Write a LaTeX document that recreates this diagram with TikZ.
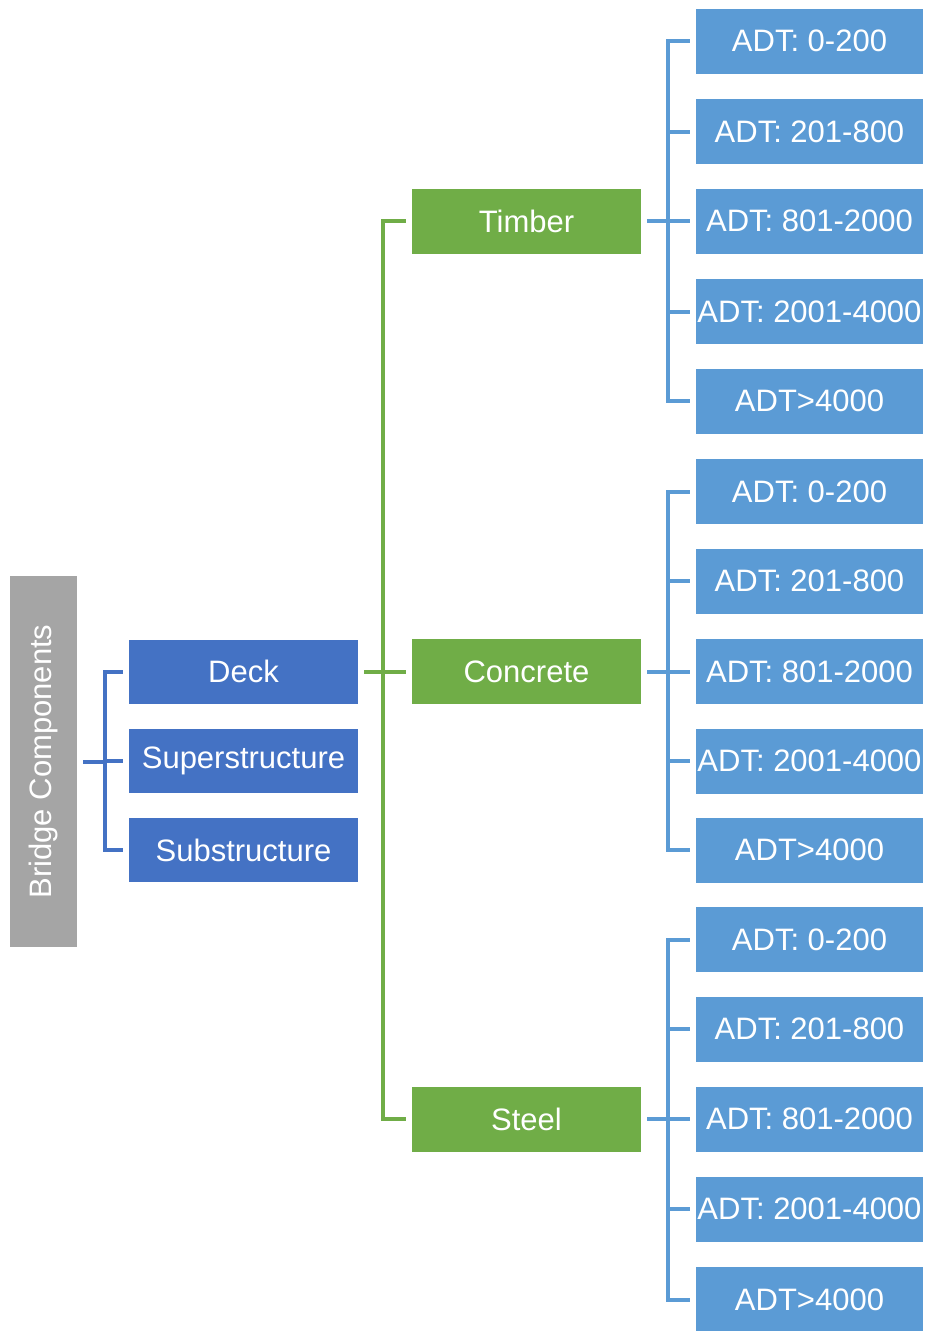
\documentclass[tikz,border=0pt]{standalone}
\usepackage{fontspec}
\setmainfont{Liberation Sans}
\definecolor{cgray}{HTML}{A5A5A5}
\definecolor{cdark}{HTML}{4472C4}
\definecolor{cgreen}{HTML}{70AD47}
\definecolor{clight}{HTML}{5B9BD5}
\begin{document}
\begin{tikzpicture}[x=1pt,y=-1pt,
  box/.style={inner sep=0pt,text=white,font=\fontsize{31}{32}\selectfont},
  graybox/.style={box,fill=cgray,minimum width=67pt,minimum height=371pt},
  darkbox/.style={box,fill=cdark,minimum width=229pt,minimum height=64pt},
  greenbox/.style={box,fill=cgreen,minimum width=229pt,minimum height=65pt},
  lightbox/.style={box,fill=clight,minimum width=227pt,minimum height=65pt},
  conn/.style={line width=4pt,line cap=butt,line join=miter}]
\useasboundingbox (0,0) rectangle (927,1331);
% root
\node[graybox] (root) at (43.5,761.5) {};
\node[box,rotate=90] (roottext) at (43.5,761.5) {Bridge Components};
% components
\node[darkbox] (deck) at (243.5,671.5) {Deck};
\node[darkbox] (super) at (243.5,761) {Superstructure};
\node[darkbox] (sub) at (243.5,850) {Substructure};
% materials
\node[greenbox] (timber) at (526.5,221) {Timber};
\node[greenbox] (concrete) at (526.5,671.5) {Concrete};
\node[greenbox] (steel) at (526.5,1119) {Steel};
% ADT boxes
\foreach \g/\ya/\yb/\yc/\yd/\ye in {t/41/131.5/221/311.5/401, c/491.5/581/671.5/761/850, s/939.5/1029/1119/1209/1299.5}{
  \node[lightbox] (\g1) at (809.5,\ya) {ADT: 0-200};
  \node[lightbox] (\g2) at (809.5,\yb) {ADT: 201-800};
  \node[lightbox] (\g3) at (809.5,\yc) {ADT: 801-2000};
  \node[lightbox] (\g4) at (809.5,\yd) {ADT: 2001-4000};
  \node[lightbox] (\g5) at (809.5,\ye) {ADT>4000};
}
% bracket x positions
\coordinate (bx1) at (105,0);
\coordinate (bx2) at (383,0);
\coordinate (bx3) at (668,0);
% root -> components
\foreach \c in {deck,super,sub}
  \draw[conn,cdark] ([xshift=6pt]root.east) -- (root.east -| bx1) |- ([xshift=-6pt]\c.west);
% deck -> materials
\foreach \c in {timber,concrete,steel}
  \draw[conn,cgreen] ([xshift=6pt]deck.east) -- (deck.east -| bx2) |- ([xshift=-6pt]\c.west);
% materials -> ADT
\foreach \p/\g in {timber/t,concrete/c,steel/s}
  \foreach \i in {1,...,5}
    \draw[conn,clight] ([xshift=6pt]\p.east) -- (\p.east -| bx3) |- ([xshift=-6pt]\g\i.west);
\end{tikzpicture}
\end{document}
